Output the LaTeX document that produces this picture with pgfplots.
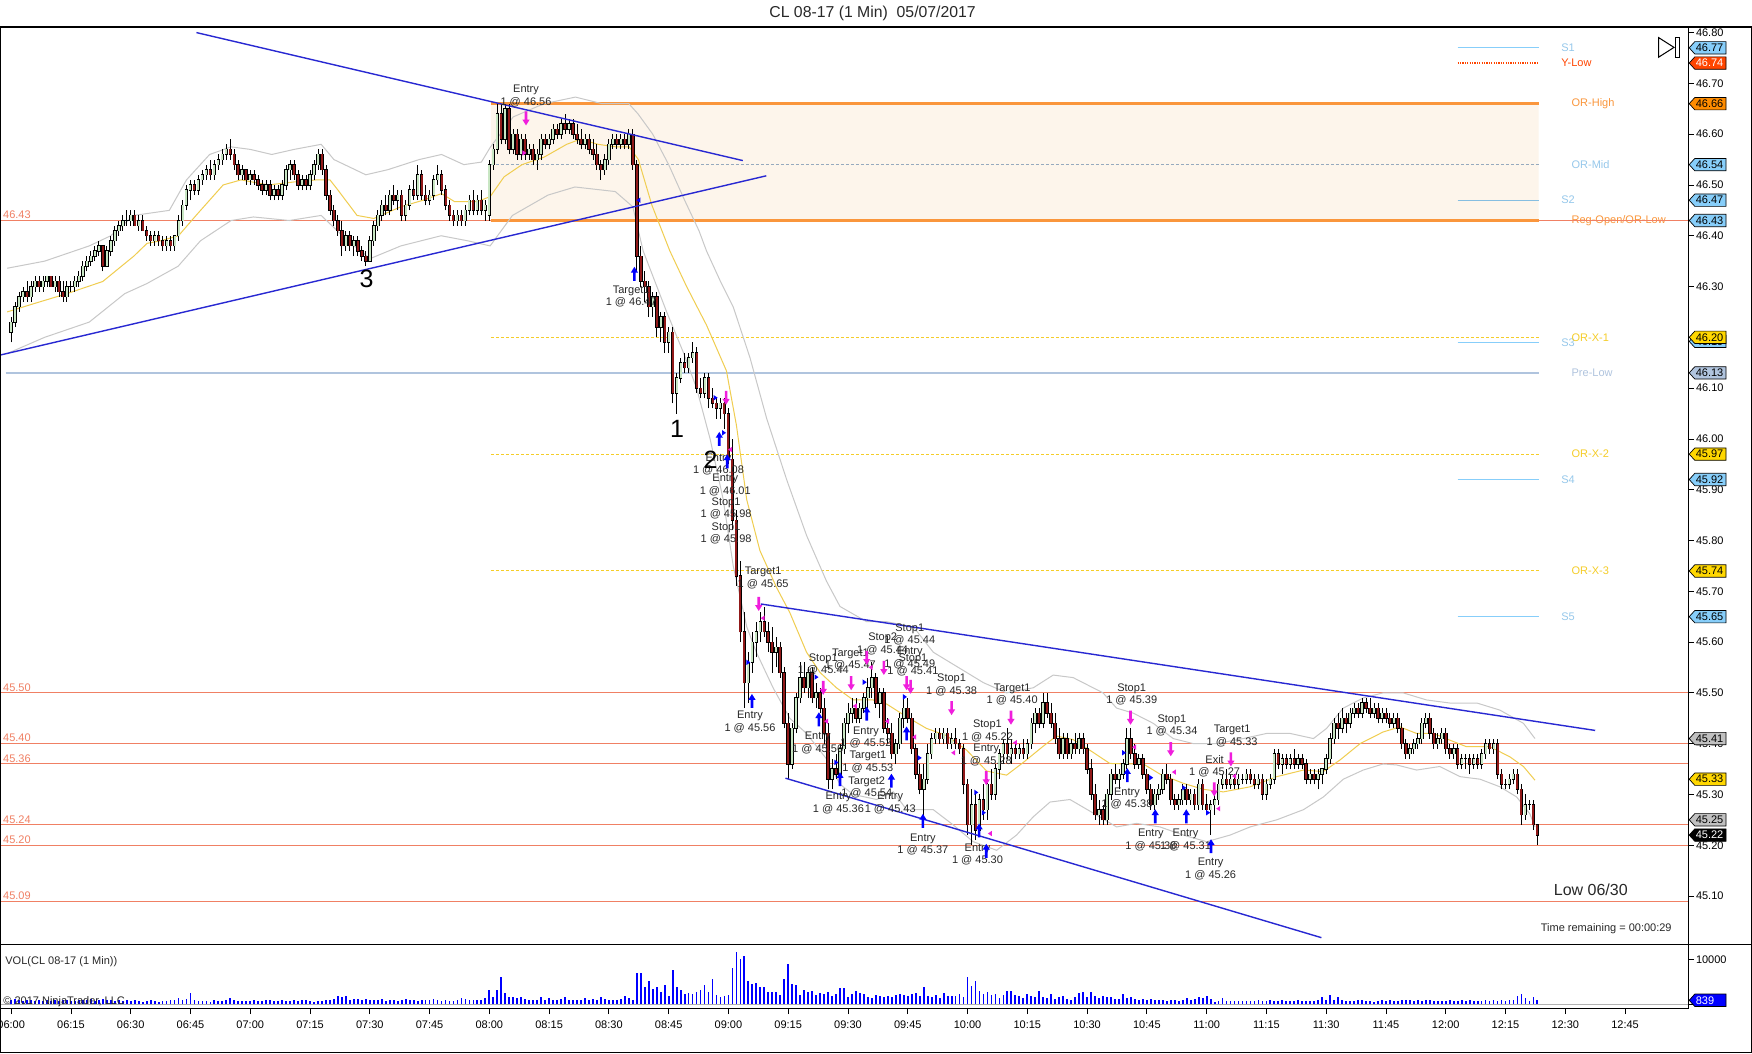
\documentclass[border=0pt]{standalone}
\usepackage{fontspec}
\setmainfont{Liberation Sans}
\setsansfont{Liberation Sans}
\usepackage{pgfplots}
\usepackage{pgfplotstable}
\pgfplotsset{compat=1.18}

\definecolor{salm}{RGB}{240,128,100}
\definecolor{orc}{RGB}{250,150,60}
\definecolor{orfill}{RGB}{253,245,235}
\definecolor{yel}{RGB}{245,205,40}
\definecolor{skyc}{RGB}{135,206,250}
\definecolor{skyt}{RGB}{150,200,235}
\definecolor{prelow}{RGB}{176,196,222}
\definecolor{ormid}{RGB}{150,170,190}
\definecolor{trendc}{RGB}{40,40,210}
\definecolor{bandc}{RGB}{200,200,200}
\definecolor{emac}{RGB}{240,205,80}
\definecolor{upc}{RGB}{200,230,195}
\definecolor{dnc}{RGB}{145,25,25}
\definecolor{pinkc}{RGB}{240,30,220}
\definecolor{annc}{RGB}{40,40,40}
\definecolor{goldc}{RGB}{255,215,0}
\definecolor{silv}{RGB}{192,192,192}
\definecolor{ylow}{RGB}{255,69,0}
\definecolor{orhi}{RGB}{255,140,0}

\newcommand{\fs}{\fontsize{5.5pt}{6.2pt}\selectfont}

\pgfdeclareplotmark{uarr}{%
 \pgfpathmoveto{\pgfpoint{0pt}{3.5pt}}%
 \pgfpathlineto{\pgfpoint{1.8pt}{0.6pt}}%
 \pgfpathlineto{\pgfpoint{0.65pt}{0.6pt}}%
 \pgfpathlineto{\pgfpoint{0.65pt}{-3.5pt}}%
 \pgfpathlineto{\pgfpoint{-0.65pt}{-3.5pt}}%
 \pgfpathlineto{\pgfpoint{-0.65pt}{0.6pt}}%
 \pgfpathlineto{\pgfpoint{-1.8pt}{0.6pt}}%
 \pgfpathclose\pgfusepathqfill}
\pgfdeclareplotmark{darr}{%
 \pgfpathmoveto{\pgfpoint{0pt}{-3.5pt}}%
 \pgfpathlineto{\pgfpoint{1.8pt}{-0.6pt}}%
 \pgfpathlineto{\pgfpoint{0.65pt}{-0.6pt}}%
 \pgfpathlineto{\pgfpoint{0.65pt}{3.5pt}}%
 \pgfpathlineto{\pgfpoint{-0.65pt}{3.5pt}}%
 \pgfpathlineto{\pgfpoint{-0.65pt}{-0.6pt}}%
 \pgfpathlineto{\pgfpoint{-1.8pt}{-0.6pt}}%
 \pgfpathclose\pgfusepathqfill}
\pgfdeclareplotmark{rtri}{%
 \pgfpathmoveto{\pgfpoint{-1pt}{1.35pt}}%
 \pgfpathlineto{\pgfpoint{1pt}{0pt}}%
 \pgfpathlineto{\pgfpoint{-1pt}{-1.35pt}}%
 \pgfpathclose\pgfusepathqfill}
\pgfdeclareplotmark{ltri}{%
 \pgfpathmoveto{\pgfpoint{1pt}{1.35pt}}%
 \pgfpathlineto{\pgfpoint{-1pt}{0pt}}%
 \pgfpathlineto{\pgfpoint{1pt}{-1.35pt}}%
 \pgfpathclose\pgfusepathqfill}

\newcommand{\ptag}[4]{%
 \draw[fill=#2, draw=black, line width=0.35pt] ([xshift=0.6pt]axis cs:780.8,#1) -- ++(2.8pt,3.1pt) -- ++(15.6pt,0pt) -- ++(0pt,-6.2pt) -- ++(-15.6pt,0pt) -- cycle;
 \node[anchor=west, inner sep=0pt, text=#3, font=\fs] at ([xshift=3.7pt]axis cs:780.8,#1) {#4};}
\newcommand{\ann}[4]{\node[font=\fs, text=annc, align=center, inner sep=0pt] at (axis cs:#1,#2) {#3\\#4};}
\newcommand{\lvl}[4]{\node[anchor=west, inner sep=0pt, text=#3, font=\fs] at (axis cs:#1,#2) {#4};}
\newcommand{\llab}[1]{\node[anchor=south west, inner sep=0.6pt, text=salm, font=\fs] at (axis cs:357.6,#1) {#1};}

\pgfplotstableread{
t O H L C V
360 46.21 46.24 46.19 46.23 900
361 46.23 46.27 46.22 46.26 1100
362 46.26 46.29 46.25 46.28 800
363 46.28 46.30 46.27 46.29 700
364 46.29 46.31 46.27 46.28 900
365 46.28 46.31 46.27 46.30 1000
366 46.30 46.32 46.29 46.31 600
367 46.31 46.32 46.29 46.30 800
368 46.30 46.32 46.29 46.31 700
369 46.31 46.32 46.30 46.32 900
370 46.32 46.32 46.30 46.30 600
371 46.30 46.32 46.29 46.31 800
372 46.31 46.32 46.28 46.29 700
373 46.29 46.31 46.27 46.28 900
374 46.28 46.31 46.27 46.30 1000
375 46.30 46.31 46.29 46.30 700
376 46.30 46.32 46.29 46.31 600
377 46.31 46.33 46.30 46.32 800
378 46.32 46.35 46.31 46.34 1000
379 46.34 46.36 46.33 46.35 900
380 46.35 46.37 46.34 46.36 1100
381 46.36 46.38 46.35 46.37 700
382 46.37 46.39 46.36 46.38 800
383 46.38 46.38 46.33 46.34 1200
384 46.34 46.38 46.34 46.37 900
385 46.37 46.40 46.36 46.39 800
386 46.39 46.42 46.38 46.41 700
387 46.41 46.43 46.40 46.42 900
388 46.42 46.44 46.41 46.43 600
389 46.43 46.45 46.42 46.43 800
390 46.43 46.45 46.42 46.44 700
391 46.44 46.45 46.42 46.42 900
392 46.42 46.44 46.41 46.43 600
393 46.43 46.44 46.41 46.41 500
394 46.41 46.42 46.39 46.40 700
395 46.40 46.41 46.38 46.39 800
396 46.39 46.41 46.38 46.40 600
397 46.40 46.41 46.38 46.39 500
398 46.39 46.40 46.37 46.38 700
399 46.38 46.40 46.37 46.39 600
400 46.39 46.40 46.37 46.38 900
401 46.38 46.40 46.37 46.40 1000
402 46.40 46.44 46.39 46.43 1400
403 46.43 46.47 46.42 46.46 900
404 46.46 46.50 46.45 46.49 1200
405 46.49 46.51 46.47 46.50 2500
406 46.50 46.51 46.48 46.49 1000
407 46.49 46.52 46.48 46.51 700
408 46.51 46.53 46.50 46.52 600
409 46.52 46.54 46.51 46.53 700
410 46.53 46.55 46.51 46.52 500
411 46.52 46.55 46.51 46.54 900
412 46.54 46.56 46.53 46.55 700
413 46.55 46.57 46.54 46.56 600
414 46.56 46.58 46.55 46.57 800
415 46.57 46.59 46.55 46.56 1400
416 46.56 46.57 46.53 46.54 800
417 46.54 46.55 46.51 46.52 700
418 46.52 46.54 46.51 46.53 600
419 46.53 46.53 46.50 46.51 600
420 46.51 46.53 46.50 46.52 700
421 46.52 46.53 46.50 46.51 800
422 46.51 46.52 46.49 46.50 700
423 46.50 46.51 46.48 46.49 600
424 46.49 46.51 46.48 46.50 900
425 46.50 46.51 46.47 46.48 800
426 46.48 46.50 46.47 46.49 600
427 46.49 46.50 46.47 46.48 700
428 46.48 46.51 46.47 46.50 800
429 46.50 46.54 46.49 46.53 700
430 46.53 46.55 46.51 46.54 600
431 46.54 46.55 46.51 46.52 800
432 46.52 46.53 46.49 46.50 700
433 46.50 46.52 46.49 46.51 900
434 46.51 46.52 46.49 46.50 800
435 46.50 46.53 46.49 46.52 600
436 46.52 46.55 46.51 46.54 500
437 46.54 46.57 46.53 46.56 700
438 46.56 46.57 46.52 46.53 600
439 46.53 46.54 46.47 46.48 1000
440 46.48 46.49 46.44 46.45 900
441 46.45 46.46 46.42 46.43 1200
442 46.43 46.44 46.40 46.41 1800
443 46.41 46.43 46.36 46.38 1500
444 46.38 46.41 46.37 46.40 1900
445 46.40 46.41 46.37 46.38 1000
446 46.38 46.40 46.36 46.39 1200
447 46.39 46.40 46.36 46.37 1100
448 46.37 46.38 46.35 46.36 900
449 46.36 46.37 46.34 46.35 1200
450 46.35 46.40 46.35 46.39 1000
451 46.39 46.43 46.38 46.42 900
452 46.42 46.45 46.41 46.44 800
453 46.44 46.47 46.43 46.46 1100
454 46.46 46.48 46.44 46.45 700
455 46.45 46.49 46.44 46.48 900
456 46.48 46.50 46.46 46.47 800
457 46.47 46.49 46.45 46.48 700
458 46.48 46.49 46.43 46.44 1000
459 46.44 46.47 46.43 46.46 1100
460 46.46 46.50 46.45 46.49 900
461 46.49 46.51 46.47 46.48 800
462 46.48 46.54 46.47 46.52 700
463 46.52 46.53 46.47 46.48 1000
464 46.48 46.50 46.46 46.47 900
465 46.47 46.49 46.46 46.48 800
466 46.48 46.52 46.47 46.51 1100
467 46.51 46.54 46.50 46.52 900
468 46.52 46.53 46.48 46.49 700
469 46.49 46.50 46.45 46.46 800
470 46.46 46.47 46.43 46.44 700
471 46.44 46.45 46.42 46.43 600
472 46.43 46.45 46.42 46.44 900
473 46.44 46.45 46.42 46.43 1300
474 46.43 46.46 46.42 46.45 1100
475 46.45 46.48 46.44 46.47 1000
476 46.47 46.49 46.44 46.45 900
477 46.45 46.48 46.44 46.47 800
478 46.47 46.49 46.44 46.45 900
479 46.45 46.47 46.43 46.46 1400
480 46.44 46.55 46.43 46.54 3100
481 46.54 46.58 46.53 46.57 1500
482 46.57 46.66 46.56 46.64 3100
483 46.64 46.66 46.58 46.59 6100
484 46.59 46.66 46.58 46.65 2500
485 46.65 46.66 46.56 46.57 1600
486 46.57 46.61 46.56 46.60 1500
487 46.60 46.61 46.55 46.56 1400
488 46.56 46.60 46.55 46.59 1500
489 46.59 46.60 46.55 46.56 1100
490 46.56 46.58 46.55 46.57 900
491 46.57 46.58 46.54 46.55 900
492 46.55 46.57 46.53 46.56 1000
493 46.56 46.60 46.55 46.59 1600
494 46.59 46.60 46.57 46.58 1000
495 46.58 46.60 46.57 46.59 1300
496 46.59 46.62 46.58 46.61 1000
497 46.61 46.62 46.59 46.60 900
498 46.60 46.63 46.59 46.62 1200
499 46.62 46.64 46.60 46.61 1500
500 46.61 46.63 46.60 46.62 900
501 46.62 46.63 46.59 46.60 1000
502 46.60 46.62 46.58 46.59 900
503 46.59 46.61 46.57 46.58 1000
504 46.58 46.60 46.57 46.59 1300
505 46.59 46.60 46.56 46.57 800
506 46.57 46.59 46.55 46.56 1100
507 46.56 46.58 46.53 46.54 1000
508 46.54 46.55 46.51 46.53 1500
509 46.53 46.56 46.52 46.55 1100
510 46.55 46.59 46.54 46.58 900
511 46.58 46.60 46.57 46.59 1000
512 46.59 46.60 46.57 46.58 900
513 46.58 46.60 46.57 46.59 1100
514 46.59 46.60 46.57 46.58 1700
515 46.58 46.61 46.57 46.60 1300
516 46.60 46.61 46.53 46.54 900
517 46.54 46.55 46.33 46.36 6900
518 46.36 46.38 46.30 46.31 6900
519 46.31 46.33 46.27 46.30 3900
520 46.30 46.31 46.24 46.26 5200
521 46.26 46.29 46.24 46.28 3300
522 46.28 46.29 46.20 46.22 3900
523 46.22 46.25 46.19 46.24 2600
524 46.24 46.25 46.17 46.19 4200
525 46.19 46.22 46.17 46.21 1800
526 46.21 46.22 46.07 46.09 7500
527 46.09 46.13 46.05 46.12 3900
528 46.12 46.16 46.11 46.15 3100
529 46.15 46.17 46.13 46.14 2200
530 46.14 46.17 46.13 46.16 2500
531 46.16 46.19 46.15 46.17 2300
532 46.17 46.18 46.09 46.10 2700
533 46.10 46.12 46.08 46.09 3100
534 46.09 46.13 46.08 46.12 4200
535 46.12 46.13 46.06 46.08 2600
536 46.08 46.10 46.06 46.07 5600
537 46.07 46.08 46.04 46.06 2000
538 46.06 46.08 46.04 46.07 1600
539 46.07 46.08 46.02 46.05 1800
540 46.05 46.06 45.95 45.96 2000
541 45.96 46.00 45.82 45.84 8000
542 45.84 45.86 45.71 45.73 11600
543 45.73 45.76 45.60 45.62 10000
544 45.62 45.66 45.47 45.52 10700
545 45.52 45.58 45.48 45.56 5200
546 45.56 45.62 45.54 45.60 4500
547 45.60 45.64 45.57 45.62 4700
548 45.62 45.66 45.60 45.64 3900
549 45.64 45.67 45.61 45.62 3700
550 45.62 45.64 45.58 45.60 2700
551 45.60 45.63 45.54 45.58 2700
552 45.58 45.61 45.55 45.59 2700
553 45.59 45.60 45.53 45.54 2000
554 45.54 45.55 45.43 45.44 5700
555 45.44 45.46 45.33 45.36 9000
556 45.36 45.44 45.35 45.43 4500
557 45.43 45.50 45.42 45.49 4200
558 45.49 45.56 45.48 45.53 2000
559 45.53 45.56 45.50 45.51 3100
560 45.51 45.55 45.49 45.54 2700
561 45.54 45.55 45.48 45.49 3000
562 45.49 45.52 45.47 45.50 2000
563 45.50 45.51 45.46 45.47 2500
564 45.47 45.49 45.40 45.42 2200
565 45.42 45.44 45.31 45.33 2700
566 45.33 45.37 45.31 45.35 1800
567 45.35 45.38 45.33 45.34 2300
568 45.34 45.40 45.33 45.39 3500
569 45.39 45.45 45.38 45.44 3500
570 45.44 45.48 45.42 45.46 1500
571 45.46 45.49 45.44 45.47 2200
572 45.47 45.49 45.44 45.45 3000
573 45.45 45.48 45.44 45.47 2400
574 45.47 45.50 45.46 45.49 2200
575 45.49 45.53 45.47 45.51 1600
576 45.51 45.56 45.49 45.53 1400
577 45.53 45.54 45.47 45.48 2000
578 45.48 45.51 45.45 45.50 1900
579 45.50 45.51 45.42 45.43 1500
580 45.43 45.45 45.40 45.42 1700
581 45.42 45.44 45.37 45.38 1500
582 45.38 45.41 45.36 45.40 2100
583 45.40 45.46 45.39 45.45 2200
584 45.45 45.49 45.43 45.47 2000
585 45.47 45.49 45.44 45.45 1900
586 45.45 45.46 45.38 45.39 2200
587 45.39 45.40 45.33 45.34 2500
588 45.34 45.36 45.30 45.31 1800
589 45.31 45.36 45.26 45.33 3700
590 45.33 45.40 45.32 45.38 1900
591 45.38 45.42 45.37 45.41 1600
592 45.41 45.43 45.40 45.42 2100
593 45.42 45.43 45.40 45.41 1400
594 45.41 45.43 45.40 45.42 2400
595 45.42 45.43 45.39 45.40 1900
596 45.40 45.42 45.39 45.41 1700
597 45.41 45.43 45.39 45.40 1800
598 45.40 45.41 45.38 45.39 2200
599 45.39 45.40 45.30 45.32 1600
600 45.32 45.33 45.22 45.24 6100
601 45.24 45.31 45.20 45.28 4100
602 45.28 45.30 45.21 45.23 5200
603 45.23 45.30 45.22 45.29 2900
604 45.29 45.32 45.25 45.27 2200
605 45.27 45.33 45.25 45.32 2700
606 45.32 45.35 45.29 45.30 2000
607 45.30 45.36 45.29 45.35 2300
608 45.35 45.39 45.33 45.38 1400
609 45.38 45.41 45.36 45.40 2000
610 45.40 45.43 45.37 45.38 3000
611 45.38 45.41 45.36 45.39 2900
612 45.39 45.40 45.37 45.38 2000
613 45.38 45.40 45.37 45.39 1800
614 45.39 45.41 45.37 45.38 1300
615 45.38 45.41 45.37 45.40 2200
616 45.40 45.45 45.39 45.44 1900
617 45.44 45.47 45.42 45.46 1500
618 45.46 45.47 45.43 45.44 3000
619 45.44 45.50 45.43 45.48 1600
620 45.48 45.50 45.45 45.46 1400
621 45.46 45.48 45.43 45.44 2300
622 45.44 45.46 45.40 45.41 1200
623 45.41 45.43 45.37 45.38 1600
624 45.38 45.42 45.37 45.41 1900
625 45.41 45.42 45.37 45.38 1100
626 45.38 45.41 45.37 45.40 1000
627 45.40 45.42 45.38 45.39 1500
628 45.39 45.42 45.38 45.41 2400
629 45.41 45.42 45.38 45.39 2600
630 45.39 45.40 45.34 45.35 1600
631 45.35 45.37 45.29 45.30 2700
632 45.30 45.32 45.25 45.26 1800
633 45.26 45.29 45.24 45.27 1400
634 45.27 45.28 45.24 45.25 1900
635 45.25 45.31 45.24 45.30 1500
636 45.30 45.35 45.29 45.34 1600
637 45.34 45.36 45.32 45.33 1200
638 45.33 45.35 45.31 45.34 1100
639 45.34 45.37 45.33 45.36 2200
640 45.36 45.43 45.35 45.41 1400
641 45.41 45.43 45.37 45.38 1600
642 45.38 45.40 45.35 45.36 1100
643 45.36 45.38 45.35 45.37 1000
644 45.37 45.38 45.33 45.34 1200
645 45.34 45.35 45.30 45.31 900
646 45.31 45.32 45.27 45.28 1100
647 45.28 45.31 45.27 45.30 800
648 45.30 45.32 45.29 45.31 900
649 45.31 45.35 45.30 45.34 1000
650 45.34 45.36 45.32 45.33 700
651 45.33 45.34 45.28 45.29 800
652 45.29 45.30 45.27 45.28 900
653 45.28 45.30 45.27 45.29 700
654 45.29 45.32 45.28 45.31 1000
655 45.31 45.32 45.28 45.29 1300
656 45.29 45.31 45.28 45.30 900
657 45.30 45.31 45.27 45.28 1200
658 45.28 45.33 45.27 45.32 1500
659 45.32 45.33 45.27 45.28 1400
660 45.28 45.30 45.26 45.27 1700
661 45.27 45.29 45.22 45.28 1100
662 45.28 45.30 45.26 45.29 500
663 45.29 45.33 45.28 45.32 700
664 45.32 45.34 45.31 45.33 1400
665 45.33 45.35 45.31 45.32 600
666 45.32 45.34 45.31 45.33 700
667 45.33 45.34 45.31 45.32 600
668 45.32 45.34 45.31 45.33 700
669 45.33 45.34 45.32 45.33 600
670 45.33 45.35 45.32 45.34 700
671 45.34 45.35 45.32 45.33 600
672 45.33 45.34 45.31 45.32 700
673 45.32 45.34 45.31 45.33 800
674 45.33 45.34 45.29 45.30 600
675 45.30 45.33 45.29 45.32 700
676 45.32 45.34 45.31 45.33 800
677 45.33 45.39 45.32 45.38 700
678 45.38 45.39 45.35 45.36 600
679 45.36 45.38 45.34 45.37 800
680 45.37 45.38 45.35 45.36 700
681 45.36 45.38 45.35 45.37 600
682 45.37 45.39 45.35 45.36 700
683 45.36 45.38 45.35 45.37 800
684 45.37 45.38 45.35 45.36 600
685 45.36 45.37 45.32 45.33 700
686 45.33 45.35 45.32 45.34 600
687 45.34 45.35 45.32 45.33 700
688 45.33 45.35 45.31 45.34 800
689 45.34 45.35 45.32 45.35 1500
690 45.35 45.38 45.34 45.37 900
691 45.37 45.42 45.36 45.41 2000
692 45.41 45.45 45.40 45.44 1000
693 45.44 45.46 45.41 45.43 1500
694 45.43 45.47 45.42 45.45 800
695 45.45 45.46 45.42 45.44 700
696 45.44 45.47 45.43 45.46 700
697 45.46 45.48 45.45 45.47 600
698 45.47 45.48 45.45 45.46 800
699 45.46 45.49 45.45 45.48 900
700 45.48 45.49 45.46 45.47 700
701 45.47 45.49 45.45 45.46 600
702 45.46 45.48 45.45 45.47 500
703 45.47 45.48 45.44 45.45 600
704 45.45 45.47 45.44 45.46 900
705 45.46 45.47 45.44 45.45 700
706 45.45 45.46 45.43 45.44 800
707 45.44 45.46 45.43 45.45 600
708 45.45 45.46 45.42 45.43 700
709 45.43 45.44 45.39 45.40 1000
710 45.40 45.41 45.37 45.38 900
711 45.38 45.40 45.37 45.39 800
712 45.39 45.41 45.38 45.40 600
713 45.40 45.42 45.39 45.41 900
714 45.41 45.45 45.40 45.44 700
715 45.44 45.46 45.43 45.45 900
716 45.45 45.46 45.41 45.42 800
717 45.42 45.43 45.39 45.40 700
718 45.40 45.42 45.39 45.41 700
719 45.41 45.43 45.40 45.42 600
720 45.42 45.43 45.38 45.39 700
721 45.39 45.40 45.37 45.38 800
722 45.38 45.40 45.37 45.39 700
723 45.39 45.40 45.35 45.36 600
724 45.36 45.38 45.35 45.37 900
725 45.37 45.38 45.35 45.37 700
726 45.37 45.38 45.34 45.36 800
727 45.36 45.38 45.35 45.37 700
728 45.37 45.38 45.35 45.36 600
729 45.36 45.39 45.35 45.38 700
730 45.38 45.41 45.37 45.40 800
731 45.40 45.41 45.38 45.39 600
732 45.39 45.41 45.38 45.40 900
733 45.40 45.41 45.33 45.34 700
734 45.34 45.35 45.31 45.32 800
735 45.32 45.33 45.31 45.32 600
736 45.32 45.34 45.31 45.33 900
737 45.33 45.35 45.32 45.34 800
738 45.34 45.35 45.30 45.31 1700
739 45.31 45.32 45.24 45.26 2200
740 45.26 45.30 45.25 45.28 1300
741 45.28 45.29 45.27 45.28 700
742 45.28 45.29 45.23 45.24 1500
743 45.24 45.24 45.20 45.22 839
}\candles

\begin{document}
\begin{tikzpicture}
\useasboundingbox (0,0) rectangle (876pt,-527pt);
\fill[white] (0,0) rectangle (876pt,-527pt);
\node[font=\fontsize{7.9pt}{9pt}\selectfont, text=annc] at (436.3pt,-6.7pt) {CL 08-17 (1 Min)\ \ 05/07/2017};

\begin{axis}[
 at={(0pt,-13.5pt)}, anchor=north west, width=844pt, height=458.5pt, scale only axis,
 xmin=357.2, xmax=780.8, ymin=45.0055, ymax=46.811,
 axis line style={line width=0.5pt},
 xtick=\empty,
 ytick={45.1,45.2,45.3,45.4,45.5,45.6,45.7,45.8,45.9,46.0,46.1,46.2,46.3,46.4,46.5,46.6,46.7,46.8},
 ytick pos=right, yticklabel pos=right,
 tick align=outside, major tick length=3pt, tick style={black, line width=0.4pt},
 yticklabel={\pgfmathprintnumber[fixed,fixed zerofill,precision=2,assume math mode=true]{\tick}},
 yticklabel style={font=\fs, inner sep=0.8pt},
 clip=false,
]
% opening range band
\addplot[draw=none, fill=orfill, forget plot] coordinates {(480.4,46.43) (743.3,46.43) (743.3,46.66) (480.4,46.66) (480.4,46.43)};
% full-width salmon lines
\addplot[salm, line width=0.5pt] coordinates {(357.2,46.43) (780.8,46.43)};
\addplot[salm, line width=0.5pt] coordinates {(357.2,45.50) (780.8,45.50)};
\addplot[salm, line width=0.5pt] coordinates {(357.2,45.40) (780.8,45.40)};
\addplot[salm, line width=0.5pt] coordinates {(357.2,45.36) (780.8,45.36)};
\addplot[salm, line width=0.5pt] coordinates {(357.2,45.24) (780.8,45.24)};
\addplot[salm, line width=0.5pt] coordinates {(357.2,45.20) (780.8,45.20)};
\addplot[salm, line width=0.5pt] coordinates {(357.2,45.09) (780.8,45.09)};
% levels
\addplot[orc, line width=1.4pt] coordinates {(480.4,46.66) (743.3,46.66)};
\addplot[orc, line width=1.4pt] coordinates {(480.4,46.43) (743.3,46.43)};
\addplot[ormid, line width=0.4pt, dash pattern=on 1.5pt off 1pt] coordinates {(480.4,46.54) (743.3,46.54)};
\addplot[yel, line width=0.5pt, dash pattern=on 1.5pt off 1pt] coordinates {(480.4,46.20) (743.3,46.20)};
\addplot[yel, line width=0.5pt, dash pattern=on 1.5pt off 1pt] coordinates {(480.4,45.97) (743.3,45.97)};
\addplot[yel, line width=0.5pt, dash pattern=on 1.5pt off 1pt] coordinates {(480.4,45.74) (743.3,45.74)};
\addplot[prelow, line width=1pt] coordinates {(358.6,46.13) (743.3,46.13)};
\addplot[skyc, line width=0.5pt] coordinates {(723,46.77) (743.3,46.77)};
\addplot[ylow, line width=0.8pt, dash pattern=on 0.6pt off 0.6pt] coordinates {(723,46.74) (743.3,46.74)};
\addplot[skyc!80!gray, line width=0.5pt] coordinates {(723,46.47) (743.3,46.47)};
\addplot[skyc, line width=0.5pt] coordinates {(723,46.19) (743.3,46.19)};
\addplot[skyc, line width=0.5pt] coordinates {(723,45.92) (743.3,45.92)};
\addplot[skyc, line width=0.5pt] coordinates {(723,45.65) (743.3,45.65)};

% bands
\addplot[bandc, line width=0.5pt] coordinates {(359,46.336) (368.4,46.35) (379.6,46.38) (385,46.40) (390.8,46.44) (399.7,46.45) (404,46.51) (409.8,46.56) (415.2,46.575) (420,46.57) (425.4,46.56) (431,46.57) (437.8,46.58) (441,46.55) (449,46.52) (454.5,46.53) (462.4,46.55) (468,46.56) (473.6,46.54) (478,46.545) (480.3,46.575) (486,46.634) (493.7,46.66) (501.6,46.673) (508.3,46.66) (515,46.66) (517.3,46.64) (521,46.60) (525,46.54) (529,46.47) (532.6,46.41) (534.5,46.37) (538,46.31) (541.2,46.26) (545.4,46.16) (549.6,46.04) (554.6,45.92) (559.6,45.81) (564.6,45.72) (568,45.67) (574.7,45.64) (579.7,45.64) (586.4,45.63) (591.4,45.58) (595.6,45.56) (599.8,45.54) (604,45.52) (609.8,45.50) (616.5,45.51) (621.5,45.535) (626.5,45.53) (629,45.52) (634,45.50) (637.4,45.47) (641.6,45.46) (646.6,45.44) (651.6,45.41) (656.7,45.40) (662.5,45.40) (669.2,45.41) (675,45.42) (681,45.42) (686.8,45.41) (690.1,45.43) (694.3,45.47) (699.3,45.49) (704.3,45.50) (709.3,45.50) (715.2,45.486) (721,45.48) (727.8,45.48) (733.6,45.466) (739.5,45.44) (742.4,45.41)};
\addplot[bandc, line width=0.5pt] coordinates {(359,46.168) (368.4,46.20) (379.6,46.23) (388.5,46.286) (394.1,46.306) (401.9,46.34) (407.5,46.39) (415.2,46.43) (420.8,46.437) (429.8,46.43) (437.8,46.44) (444.5,46.39) (450.1,46.355) (457.8,46.38) (467.9,46.40) (474.6,46.39) (480.2,46.38) (485.8,46.44) (494.7,46.48) (501.5,46.496) (511.6,46.487) (516,46.457) (518.6,46.37) (524.5,46.25) (528.7,46.17) (532,46.10) (535.4,46.00) (538.7,45.88) (541.2,45.75) (544.6,45.63) (547,45.58) (551.2,45.51) (555.4,45.45) (559.6,45.42) (564.6,45.37) (568,45.32) (571.3,45.30) (577.2,45.29) (581.4,45.305) (584.7,45.27) (591.4,45.27) (596.4,45.24) (601.4,45.207) (607.3,45.19) (612.3,45.22) (616.5,45.256) (620.7,45.285) (625.7,45.29) (631.6,45.263) (637.4,45.236) (642.4,45.243) (648.3,45.236) (654.1,45.22) (660,45.207) (665.9,45.22) (670.9,45.236) (677.6,45.25) (684.3,45.27) (689.3,45.295) (694.3,45.33) (699.3,45.348) (704.3,45.36) (707.7,45.358) (712.7,45.348) (718.5,45.355) (723.6,45.335) (728.6,45.33) (733.6,45.315) (737.8,45.295) (741.1,45.262) (742.4,45.236)};
\addplot[emac, line width=0.5pt] coordinates {(359,46.25) (366,46.267) (374,46.286) (383,46.31) (390.8,46.36) (394.1,46.385) (397.5,46.39) (402,46.40) (406.4,46.44) (413.2,46.50) (417.7,46.51) (424.5,46.50) (431.1,46.506) (436.7,46.51) (440,46.51) (442,46.49) (446.8,46.44) (451,46.434) (457.8,46.457) (463.4,46.47) (468,46.483) (471.3,46.467) (476.9,46.467) (480.2,46.477) (483.7,46.516) (488.2,46.54) (493.8,46.555) (499.4,46.58) (502.8,46.59) (507.3,46.58) (511.8,46.575) (515.1,46.575) (517.4,46.55) (520.8,46.46) (525.3,46.37) (529.5,46.30) (534.5,46.224) (539.5,46.134) (542,46.027) (544.6,45.88) (547.9,45.78) (552.1,45.707) (555.4,45.658) (559.6,45.58) (563,45.54) (567.1,45.51) (571.3,45.486) (576.3,45.486) (579.7,45.478) (584.7,45.453) (589.7,45.43) (594.7,45.416) (599.8,45.387) (604.8,45.346) (609.8,45.338) (614,45.363) (619,45.395) (622.3,45.415) (626.5,45.408) (630.7,45.387) (635.7,45.361) (639.9,45.36) (644.1,45.36) (648.3,45.34) (654.1,45.322) (659.2,45.31) (664.2,45.305) (670.9,45.315) (677.6,45.335) (684.3,45.348) (689.3,45.345) (693.5,45.368) (698.5,45.40) (704.3,45.423) (708.5,45.433) (712.7,45.42) (716.9,45.42) (721,45.407) (725.2,45.394) (731.1,45.394) (736.1,45.374) (739.5,45.355) (742.4,45.328)};

% candles: wicks
\addplot[draw=none, forget plot, error bars/.cd, y dir=plus, y explicit, error mark=none,
 error bar style={draw=black, line width=0.45pt, solid}]
 table[x=t, y=L, y error plus expr={\thisrow{H}-\thisrow{L}}] {\candles};
% body outline
\addplot[draw=none, forget plot, error bars/.cd, y dir=plus, y explicit, error mark=none,
 error bar style={draw=black, line width=1.8pt, solid}]
 table[x=t, y expr={min(\thisrow{O},\thisrow{C})-0.0011}, y error plus expr={abs(\thisrow{C}-\thisrow{O})+0.0022}] {\candles};
% up bodies
\addplot[draw=none, forget plot, error bars/.cd, y dir=plus, y explicit, error mark=none,
 error bar style={draw=upc, line width=1.0pt, solid}]
 table[x=t, y=O, y error plus expr={max(\thisrow{C}-\thisrow{O},0)}] {\candles};
% down bodies
\addplot[draw=none, forget plot, error bars/.cd, y dir=plus, y explicit, error mark=none,
 error bar style={draw=dnc, line width=1.0pt, solid}]
 table[x=t, y=C, y error plus expr={max(\thisrow{O}-\thisrow{C},0)}] {\candles};

% trend lines
\addplot[trendc, line width=0.7pt] coordinates {(406.5,46.80) (543.6,46.548)};
\addplot[trendc, line width=0.7pt] coordinates {(357.2,46.165) (549.5,46.518)};
\addplot[trendc, line width=0.7pt] coordinates {(548.1,45.675) (757.5,45.426)};
\addplot[trendc, line width=0.7pt] coordinates {(554.3,45.332) (688.8,45.018)};

% execution markers
\addplot[only marks, mark=darr, color=pinkc] coordinates {(489.2,46.631) (539.4,46.081) (547.6,45.675) (563.8,45.510) (570.8,45.519) (574.7,45.569) (579,45.549) (584.7,45.519) (585.7,45.512) (596,45.470) (610.9,45.451) (640.9,45.451) (651,45.389) (666.1,45.369) (661.9,45.310) (604.7,45.332)};
\addplot[only marks, mark=uarr, color=blue] coordinates {(516.4,46.325) (537.7,46.0) (539.7,45.956) (545.9,45.484) (562.7,45.448) (568,45.330) (574.7,45.459) (580.9,45.327) (584.7,45.420) (588.8,45.248) (602.9,45.229) (604.7,45.189) (640.1,45.338) (647.1,45.257) (654.9,45.257) (661.1,45.198)};
\addplot[only marks, mark=rtri, color=blue] coordinates {(562.1,45.531) (574.2,45.521) (584.3,45.492) (588,45.372) (567.1,45.363) (602.2,45.304) (604.1,45.264) (639.3,45.382) (646.1,45.333) (654.4,45.313) (660.4,45.264) (536.8,46.081) (538.9,46.012) (545,45.56)};
\addplot[only marks, mark=ltri, color=pinkc] coordinates {(564.5,45.444) (571.7,45.474) (579.8,45.444) (586.6,45.413) (596.4,45.382) (605.6,45.223) (611.9,45.402) (641.8,45.393) (651.8,45.344) (666.9,45.336) (662.9,45.272) (575.7,45.55) (540.4,45.979) (548.6,45.647)};
\addplot[only marks, mark=rtri, color=pinkc] coordinates {(488.8,46.563)};
\addplot[only marks, mark=ltri, color=blue] coordinates {(517.4,46.47)};

% annotations
\ann{489.2}{46.675}{Entry}{1 @ 46.56}
\ann{515.6}{46.281}{Target1}{1 @ 46.47}
\ann{537.5}{45.950}{Entry}{1 @ 46.08}
\ann{539.2}{45.909}{Entry}{1 @ 46.01}
\ann{539.4}{45.863}{Stop1}{1 @ 45.98}
\ann{539.4}{45.814}{Stop1}{1 @ 45.98}
\ann{548.7}{45.726}{Target1}{1 @ 45.65}
\ann{545.4}{45.443}{Entry}{1 @ 45.56}
\ann{563.8}{45.556}{Stop1}{1 @ 45.44}
\ann{570.6}{45.566}{Target1}{1 @ 45.47}
\ann{578.7}{45.596}{Stop2}{1 @ 45.44}
\ann{585.5}{45.615}{Stop1}{1 @ 45.44}
\ann{585.5}{45.569}{Entry}{1 @ 45.49}
\ann{586.3}{45.555}{Stop1}{1 @ 45.41}
\ann{596.0}{45.516}{Stop1}{1 @ 45.38}
\ann{611.2}{45.497}{Target1}{1 @ 45.40}
\ann{641.2}{45.497}{Stop1}{1 @ 45.39}
\ann{651.3}{45.436}{Stop1}{1 @ 45.34}
\ann{666.4}{45.415}{Target1}{1 @ 45.33}
\ann{662.0}{45.355}{Exit}{1 @ 45.27}
\ann{562.4}{45.401}{Entry}{1 @ 45.56}
\ann{574.5}{45.412}{Entry}{1 @ 45.52}
\ann{575.0}{45.364}{Target1}{1 @ 45.53}
\ann{574.7}{45.314}{Target2}{1 @ 45.54}
\ann{567.6}{45.283}{Entry}{1 @ 45.36}
\ann{580.6}{45.283}{Entry}{1 @ 45.43}
\ann{588.8}{45.202}{Entry}{1 @ 45.37}
\ann{605.0}{45.425}{Stop1}{1 @ 45.22}
\ann{604.7}{45.378}{Entry}{1 @ 45.28}
\ann{602.5}{45.182}{Entry}{1 @ 45.30}
\ann{640.0}{45.292}{Entry}{1 @ 45.38}
\ann{646.0}{45.210}{Entry}{1 @ 45.38}
\ann{654.7}{45.210}{Entry}{1 @ 45.31}
\ann{661.0}{45.153}{Entry}{1 @ 45.26}
\node[font=\fontsize{12.5pt}{13pt}\selectfont, text=black] at (axis cs:449.2,46.316) {3};
\node[font=\fontsize{12.5pt}{13pt}\selectfont, text=black] at (axis cs:527.1,46.020) {1};
\node[font=\fontsize{12.5pt}{13pt}\selectfont, text=black] at (axis cs:535.5,45.958) {2};

% left salmon labels
\llab{46.43}\llab{45.50}\llab{45.40}\llab{45.36}\llab{45.24}\llab{45.20}\llab{45.09}

% right level names
\lvl{748.9}{46.77}{skyt}{S1}
\lvl{748.9}{46.74}{ylow}{Y-Low}
\lvl{751.5}{46.66}{orc}{OR-High}
\lvl{751.5}{46.54}{skyt}{OR-Mid}
\lvl{748.9}{46.47}{skyt}{S2}
\lvl{751.5}{46.43}{orc}{Reg-Open/OR-Low}
\lvl{748.9}{46.19}{skyt}{S3}
\lvl{751.5}{46.20}{yel}{OR-X-1}
\lvl{751.5}{46.13}{prelow}{Pre-Low}
\lvl{751.5}{45.97}{yel}{OR-X-2}
\lvl{748.9}{45.92}{skyt}{S4}
\lvl{751.5}{45.74}{yel}{OR-X-3}
\lvl{748.9}{45.65}{skyt}{S5}
\addplot[salm, line width=0.5pt] coordinates {(743.3,46.43) (780.8,46.43)};

\node[font=\fontsize{8pt}{9pt}\selectfont, text=annc] at (axis cs:756.4,45.113) {Low 06/30};

% price tags
\ptag{46.77}{skyc}{black}{46.77}
\ptag{46.74}{ylow}{white}{46.74}
\ptag{46.66}{orhi}{black}{46.66}
\ptag{46.54}{skyc}{black}{46.54}
\ptag{46.47}{skyc}{black}{46.47}
\ptag{46.43}{skyc}{black}{46.43}
\ptag{46.192}{skyc}{black}{46.19}
\ptag{46.20}{goldc}{black}{46.20}
\ptag{46.13}{prelow}{black}{46.13}
\ptag{45.97}{goldc}{black}{45.97}
\ptag{45.92}{skyc}{black}{45.92}
\ptag{45.74}{goldc}{black}{45.74}
\ptag{45.65}{skyc}{black}{45.65}
\ptag{45.41}{silv}{black}{45.41}
\ptag{45.33}{goldc}{black}{45.33}
\ptag{45.25}{silv}{black}{45.25}
\ptag{45.22}{black}{white}{45.22}
\end{axis}

\begin{axis}[
 at={(0pt,-472pt)}, anchor=north west, width=844pt, height=32pt, scale only axis,
 xmin=357.2, xmax=780.8, ymin=-895, ymax=13423,
 axis line style={line width=0.5pt},
 xtick={360,375,...,765},
 xticklabels={06:00,06:15,06:30,06:45,07:00,07:15,07:30,07:45,08:00,08:15,08:30,08:45,09:00,09:15,09:30,09:45,10:00,10:15,10:30,10:45,11:00,11:15,11:30,11:45,12:00,12:15,12:30,12:45},
 xtick pos=left,
 ytick={0,10000}, yticklabels={0,10000},
 scaled y ticks=false,
 ytick pos=right, yticklabel pos=right,
 tick align=outside, major tick length=3pt, tick style={black, line width=0.4pt},
 ticklabel style={font=\fs},
 yticklabel style={inner sep=0.8pt},
 clip=false,
]
\addplot[gray!60, line width=0.5pt] coordinates {(357.2,0) (780.8,0)};
\addplot[ycomb, draw=blue, line width=0.9pt] table[x=t, y=V] {\candles};
\ptag{839}{blue}{white}{839}
\end{axis}

\node[anchor=west, font=\fs, text=annc, inner sep=0pt] at (2.5pt,-481pt) {VOL(CL 08-17 (1 Min))};
\node[anchor=west, font=\fs, text=annc, inner sep=0pt] at (1.5pt,-500.8pt) {\textcopyright\ 2017 NinjaTrader, LLC};
\node[anchor=east, font=\fs, text=annc, inner sep=0pt] at (836pt,-464.5pt) {Time remaining = 00:00:29};

% play icon
\draw[line width=0.5pt] (829.3pt,-18.8pt) -- (829.3pt,-28.6pt) -- (837pt,-23.7pt) -- cycle;
\draw[line width=0.5pt] (837.8pt,-18.8pt) rectangle (839.8pt,-28.6pt);

% frame
\draw[line width=0.6pt] (0.3pt,-13.5pt) rectangle (875.6pt,-526.2pt);
\draw[line width=0.5pt] (844pt,-472pt) -- (875.6pt,-472pt);
\end{tikzpicture}
\end{document}
